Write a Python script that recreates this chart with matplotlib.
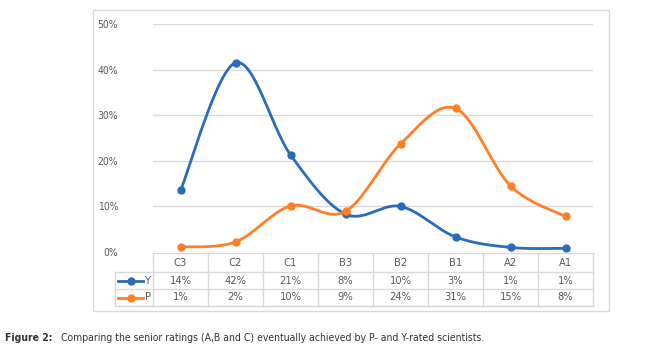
import numpy as np
import matplotlib.pyplot as plt

categories = ['C3', 'C2', 'C1', 'B3', 'B2', 'B1', 'A2', 'A1']
y_vals = [13.5, 41.5, 21.3, 8.3, 10.0, 3.3, 1.0, 0.8]
p_vals = [1.1, 2.2, 10.1, 8.9, 23.7, 31.5, 14.5, 7.8]
y_labels = ['14%', '42%', '21%', '8%', '10%', '3%', '1%', '1%']
p_labels = ['1%', '2%', '10%', '9%', '24%', '31%', '15%', '8%']
yticks = [0, 10, 20, 30, 40, 50]

BLUE = '#2A6CB8'
ORANGE = '#FF7F27'
GRID = '#d9d9d9'
TXT = '#595959'

W, H = 652, 350


def smooth(xs, ys, n=30):
    # catmull-rom, like excel's smoothed line
    xs = np.asarray(xs, float)
    ys = np.asarray(ys, float)
    px = np.concatenate([[xs[0]], xs, [xs[-1]]])
    py = np.concatenate([[ys[0]], ys, [ys[-1]]])
    ox, oy = [], []
    for i in range(1, len(px) - 2):
        t = np.linspace(0, 1, n)
        for arr, out in ((px, ox), (py, oy)):
            p0, p1, p2, p3 = arr[i - 1], arr[i], arr[i + 1], arr[i + 2]
            c1 = p1 + (p2 - p0) / 6
            c2 = p2 - (p3 - p1) / 6
            out.extend((1 - t) ** 3 * p1 + 3 * (1 - t) ** 2 * t * c1
                       + 3 * (1 - t) * t ** 2 * c2 + t ** 3 * p2)
    return np.array(ox), np.array(oy)


fig = plt.figure(figsize=(W / 100, H / 100), dpi=100)
plt.rcParams['font.family'] = ['DejaVu Sans']

# chart frame
fig.patches.append(plt.Rectangle((93 / W, 1 - 311 / H), (609 - 93) / W, (311 - 10) / H,
                                 transform=fig.transFigure, fill=False,
                                 edgecolor=GRID, lw=1))

x0, x1 = 153, 593
yb, yt = 252, 24
ax = fig.add_axes([x0 / W, 1 - yb / H, (x1 - x0) / W, (yb - yt) / H])
ax.set_xlim(-0.5, 7.5)
ax.set_ylim(0, 50)
for s in ax.spines.values():
    s.set_visible(False)
ax.set_yticks(yticks)
ax.set_yticklabels([f'{v}%' for v in yticks], color=TXT, fontsize=7.5,
                   fontstretch='condensed')
ax.tick_params(axis='y', length=0, pad=25)
ax.set_xticks([])
ax.grid(axis='y', color=GRID, lw=1)
ax.set_axisbelow(True)

xs = np.arange(len(categories))
for vals, col in ((y_vals, BLUE), (p_vals, ORANGE)):
    sx, sy = smooth(xs, vals)
    ax.plot(sx, sy, color=col, lw=2, solid_capstyle='round', zorder=3)
    ax.plot(xs, vals, 'o', color=col, ms=5, zorder=4)

# data table below the axis
colw = (x1 - x0) / len(categories)
rows = [253, 272, 289, 306]
tf = fig.transFigure


def fx(px):
    return px / W


def fy(py):
    return 1 - py / H


def line(xa, ya, xb, yb_):
    fig.add_artist(plt.Line2D([fx(xa), fx(xb)], [fy(ya), fy(yb_)], color=GRID, lw=1,
                              transform=tf))


line(x0, rows[0], x1, rows[0])
for r in rows[1:]:
    line(115, r, x1, r)
for k in range(len(categories) + 1):
    line(x0 + k * colw, rows[0], x0 + k * colw, rows[3])
line(115, rows[1], 115, rows[3])

cell = dict(ha='center', va='center', fontsize=8, color=TXT, fontstretch='condensed')
for k, cat in enumerate(categories):
    cx = x0 + (k + 0.5) * colw
    fig.text(fx(cx), fy((rows[0] + rows[1]) / 2), cat, **cell)
    fig.text(fx(cx), fy((rows[1] + rows[2]) / 2), y_labels[k], **cell)
    fig.text(fx(cx), fy((rows[2] + rows[3]) / 2), p_labels[k], **cell)

for name, col, ra, rb in (('Y', BLUE, rows[1], rows[2]), ('P', ORANGE, rows[2], rows[3])):
    ym = (ra + rb) / 2
    fig.add_artist(plt.Line2D([fx(118), fx(143)], [fy(ym), fy(ym)], color=col, lw=2,
                              transform=tf))
    fig.add_artist(plt.Line2D([fx(130.5)], [fy(ym)], marker='o', ms=5, color=col,
                              transform=tf))
    fig.text(fx(145), fy(ym), name, ha='left', va='center', fontsize=8, color=TXT,
             fontstretch='condensed')

fig.text(fx(5), fy(338), 'Figure 2:', ha='left', va='center', fontsize=7.5,
         fontweight='bold', color='#333333', fontstretch='condensed')
fig.text(fx(61), fy(338),
         'Comparing the senior ratings (A,B and C) eventually achieved by P- and Y-rated scientists.',
         ha='left', va='center', fontsize=7.5, color='#333333', fontstretch='condensed')

fig.savefig('out.png', dpi=100)
